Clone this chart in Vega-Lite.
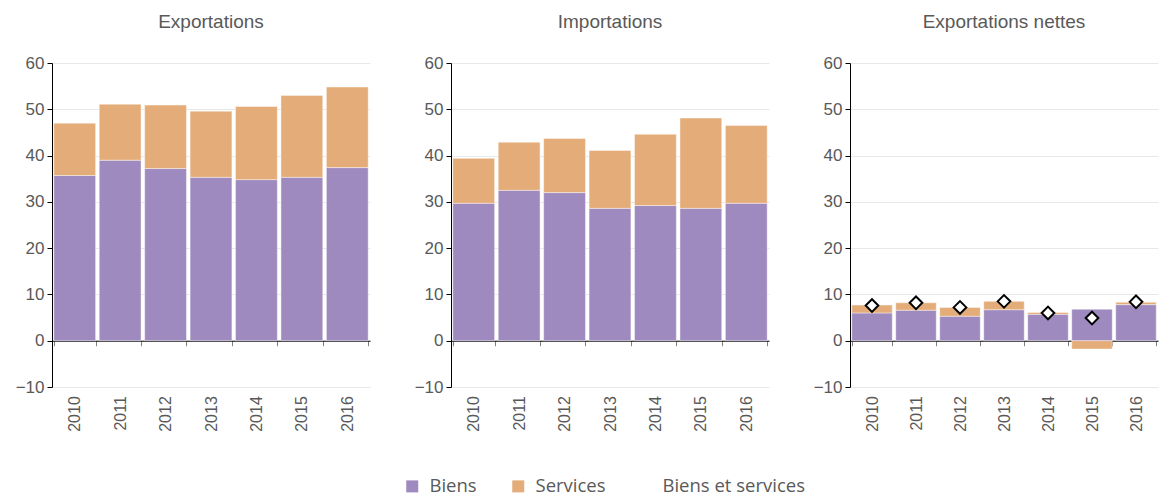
{
  "$schema": "https://vega.github.io/schema/vega-lite/v6.json",
  "autosize": {"type": "pad"},
  "padding": {"left": 15, "top": 13, "right": 2, "bottom": 0},
  "config": {
    "view": {"stroke": null},
    "font": "Liberation Sans",
    "title": {"fontSize": 19, "fontWeight": "normal", "color": "#595959", "offset": 22},
    "axisY": {"domainColor": "#000000", "domainWidth": 1, "tickColor": "#000000", "tickSize": 5, "labelFontSize": 17, "labelColor": "#595959", "labelPadding": 3, "gridColor": "#e8e8e8", "title": null},
    "axisX": {"domainColor": "#000000", "domainWidth": 1, "tickColor": "#7f7f7f", "tickSize": 5, "labelFontSize": 16, "labelColor": "#595959", "grid": false, "title": null},
    "legend": {"padding": 0, "title": null, "labelFont": "Open Sans", "labelFontSize": 18.5, "labelColor": "#595959", "symbolSize": 144, "labelOffset": 8}
  },
  "datasets": {
    "bars": [
      {"panel": "Exportations", "year": "2010", "type": "Biens", "value": 35.7},
      {"panel": "Exportations", "year": "2011", "type": "Biens", "value": 39.0},
      {"panel": "Exportations", "year": "2012", "type": "Biens", "value": 37.2},
      {"panel": "Exportations", "year": "2013", "type": "Biens", "value": 35.3},
      {"panel": "Exportations", "year": "2014", "type": "Biens", "value": 34.8},
      {"panel": "Exportations", "year": "2015", "type": "Biens", "value": 35.3},
      {"panel": "Exportations", "year": "2016", "type": "Biens", "value": 37.4},
      {"panel": "Exportations", "year": "2010", "type": "Services", "value": 11.3},
      {"panel": "Exportations", "year": "2011", "type": "Services", "value": 12.1},
      {"panel": "Exportations", "year": "2012", "type": "Services", "value": 13.7},
      {"panel": "Exportations", "year": "2013", "type": "Services", "value": 14.3},
      {"panel": "Exportations", "year": "2014", "type": "Services", "value": 15.8},
      {"panel": "Exportations", "year": "2015", "type": "Services", "value": 17.7},
      {"panel": "Exportations", "year": "2016", "type": "Services", "value": 17.4},
      {"panel": "Importations", "year": "2010", "type": "Biens", "value": 29.7},
      {"panel": "Importations", "year": "2011", "type": "Biens", "value": 32.5},
      {"panel": "Importations", "year": "2012", "type": "Biens", "value": 32.0},
      {"panel": "Importations", "year": "2013", "type": "Biens", "value": 28.6},
      {"panel": "Importations", "year": "2014", "type": "Biens", "value": 29.2},
      {"panel": "Importations", "year": "2015", "type": "Biens", "value": 28.6},
      {"panel": "Importations", "year": "2016", "type": "Biens", "value": 29.7},
      {"panel": "Importations", "year": "2010", "type": "Services", "value": 9.7},
      {"panel": "Importations", "year": "2011", "type": "Services", "value": 10.4},
      {"panel": "Importations", "year": "2012", "type": "Services", "value": 11.7},
      {"panel": "Importations", "year": "2013", "type": "Services", "value": 12.5},
      {"panel": "Importations", "year": "2014", "type": "Services", "value": 15.4},
      {"panel": "Importations", "year": "2015", "type": "Services", "value": 19.5},
      {"panel": "Importations", "year": "2016", "type": "Services", "value": 16.8},
      {"panel": "Exportations nettes", "year": "2010", "type": "Biens", "value": 6.0},
      {"panel": "Exportations nettes", "year": "2011", "type": "Biens", "value": 6.6},
      {"panel": "Exportations nettes", "year": "2012", "type": "Biens", "value": 5.3},
      {"panel": "Exportations nettes", "year": "2013", "type": "Biens", "value": 6.7},
      {"panel": "Exportations nettes", "year": "2014", "type": "Biens", "value": 5.7},
      {"panel": "Exportations nettes", "year": "2015", "type": "Biens", "value": 6.8},
      {"panel": "Exportations nettes", "year": "2016", "type": "Biens", "value": 7.8},
      {"panel": "Exportations nettes", "year": "2010", "type": "Services", "value": 1.7},
      {"panel": "Exportations nettes", "year": "2011", "type": "Services", "value": 1.6},
      {"panel": "Exportations nettes", "year": "2012", "type": "Services", "value": 1.9},
      {"panel": "Exportations nettes", "year": "2013", "type": "Services", "value": 1.8},
      {"panel": "Exportations nettes", "year": "2014", "type": "Services", "value": 0.4},
      {"panel": "Exportations nettes", "year": "2015", "type": "Services", "value": -1.8},
      {"panel": "Exportations nettes", "year": "2016", "type": "Services", "value": 0.5}
    ],
    "net": [
      {"year": "2010", "total": 7.6},
      {"year": "2011", "total": 8.2},
      {"year": "2012", "total": 7.2},
      {"year": "2013", "total": 8.5},
      {"year": "2014", "total": 6.0},
      {"year": "2015", "total": 4.9},
      {"year": "2016", "total": 8.4}
    ]
  },
  "spacing": 44,
  "resolve": {"scale": {"color": "shared"}, "legend": {"color": "shared"}},
  "hconcat": [
    {
      "title": "Exportations",
      "width": 318,
      "height": 324,
      "data": {"name": "bars"},
      "transform": [{"filter": "datum.panel === 'Exportations'"}],
      "mark": {"type": "bar", "stroke": "#ffffff", "strokeWidth": 0.6, "strokeOpacity": 0.7},
      "encoding": {
        "x": {"field": "year", "type": "ordinal", "scale": {"paddingInner": 0.08, "paddingOuter": 0.04}, "axis": {"labelAngle": -90, "offset": -46.29, "labelPadding": 50, "tickBand": "extent"}},
        "y": {"field": "value", "type": "quantitative", "stack": "zero", "scale": {"domain": [-10, 60], "nice": false}, "axis": {"values": [-10, 0, 10, 20, 30, 40, 50, 60]}},
        "order": {"field": "type", "sort": "ascending"},
        "color": {
          "field": "type", "type": "nominal",
          "scale": {"domain": ["Biens", "Services"], "range": ["#9e8abf", "#e4ac78"]},
          "legend": {"orient": "none", "direction": "horizontal", "legendX": 351, "legendY": 414, "columnPadding": 32, "symbolType": "square", "symbolStrokeWidth": 0}
        }
      }
    },
    {
      "title": "Importations",
      "width": 318,
      "height": 324,
      "data": {"name": "bars"},
      "transform": [{"filter": "datum.panel === 'Importations'"}],
      "mark": {"type": "bar", "stroke": "#ffffff", "strokeWidth": 0.6, "strokeOpacity": 0.7},
      "encoding": {
        "x": {"field": "year", "type": "ordinal", "scale": {"paddingInner": 0.08, "paddingOuter": 0.04}, "axis": {"labelAngle": -90, "offset": -46.29, "labelPadding": 50, "tickBand": "extent"}},
        "y": {"field": "value", "type": "quantitative", "stack": "zero", "scale": {"domain": [-10, 60], "nice": false}, "axis": {"values": [-10, 0, 10, 20, 30, 40, 50, 60]}},
        "order": {"field": "type", "sort": "ascending"},
        "color": {"field": "type", "type": "nominal", "scale": {"domain": ["Biens", "Services"], "range": ["#9e8abf", "#e4ac78"]}, "legend": null}
      }
    },
    {
      "title": "Exportations nettes",
      "width": 308,
      "height": 324,
      "layer": [
        {
          "data": {"name": "bars"},
          "transform": [{"filter": "datum.panel === 'Exportations nettes'"}],
          "mark": {"type": "bar", "stroke": "#ffffff", "strokeWidth": 0.6, "strokeOpacity": 0.7},
          "encoding": {
            "x": {"field": "year", "type": "ordinal", "scale": {"paddingInner": 0.08, "paddingOuter": 0.04}, "axis": {"labelAngle": -90, "offset": -46.29, "labelPadding": 50, "tickBand": "extent"}},
            "y": {"field": "value", "type": "quantitative", "stack": "zero", "scale": {"domain": [-10, 60], "nice": false}, "axis": {"values": [-10, 0, 10, 20, 30, 40, 50, 60]}},
            "order": {"field": "type", "sort": "ascending"},
            "color": {"field": "type", "type": "nominal", "scale": {"domain": ["Biens", "Services"], "range": ["#9e8abf", "#e4ac78"]}, "legend": null}
          }
        },
        {
          "data": {"name": "net"},
          "mark": {"type": "point", "filled": true, "color": "#000000", "fill": "#ffffff", "fillOpacity": 1, "stroke": "#000000", "strokeWidth": 2, "size": 160, "opacity": 1},
          "encoding": {
            "x": {"field": "year", "type": "ordinal"},
            "y": {"field": "total", "type": "quantitative"},
            "shape": {
              "datum": "Biens et services",
              "scale": {"domain": ["Biens et services"], "range": ["diamond"]},
              "legend": {
                "orient": "none", "legendX": 584, "legendY": 414,
                "symbolType": "diamond", "symbolOpacity": 1,
                "symbolStrokeColor": "#1f3c88", "symbolFillColor": "#ffffff", "symbolStrokeWidth": 2, "symbolSize": 130
              }
            }
          }
        }
      ]
    }
  ]
}
